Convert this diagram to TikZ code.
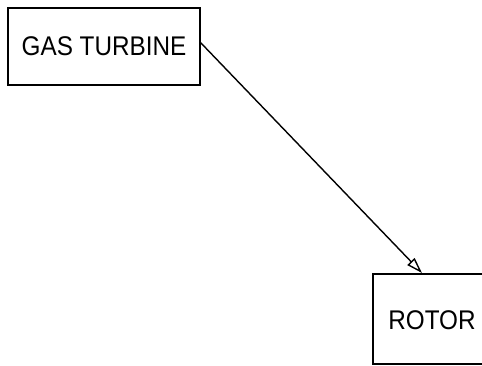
\documentclass[tikz,border=0pt]{standalone}
\usepackage{fontspec}
\setmainfont{Liberation Sans}
\usetikzlibrary{arrows.meta}
\begin{document}
\begin{tikzpicture}[x=1pt,y=-1pt,
  blockbox/.style={draw=black,line width=2pt,inner sep=0pt,font=\fontsize{27}{30}\selectfont},
  flow/.style={draw=black,line width=1.4pt,-{Triangle[open,length=16pt,width=10pt,line width=1.4pt]}}]
\useasboundingbox (0,0) rectangle (482,365);
\node[blockbox,minimum width=192pt,minimum height=77pt] (gt) at (104,46.5) {\scalebox{0.9}[1]{GAS TURBINE}};
\begin{scope}
\clip (0,0) rectangle (482,365);
\node[blockbox,minimum width=118pt,minimum height=90pt,anchor=north west] (rotor) at (372,273) {};
\end{scope}
\node[font=\fontsize{27}{30}\selectfont,inner sep=0pt] (rt) at (432,320) {\scalebox{0.9}[1]{ROTOR}};
\coordinate (gtout) at (200,42);
\coordinate (rtin) at (422,273);
\draw[flow] (gtout) -- (rtin);
\end{tikzpicture}
\end{document}
